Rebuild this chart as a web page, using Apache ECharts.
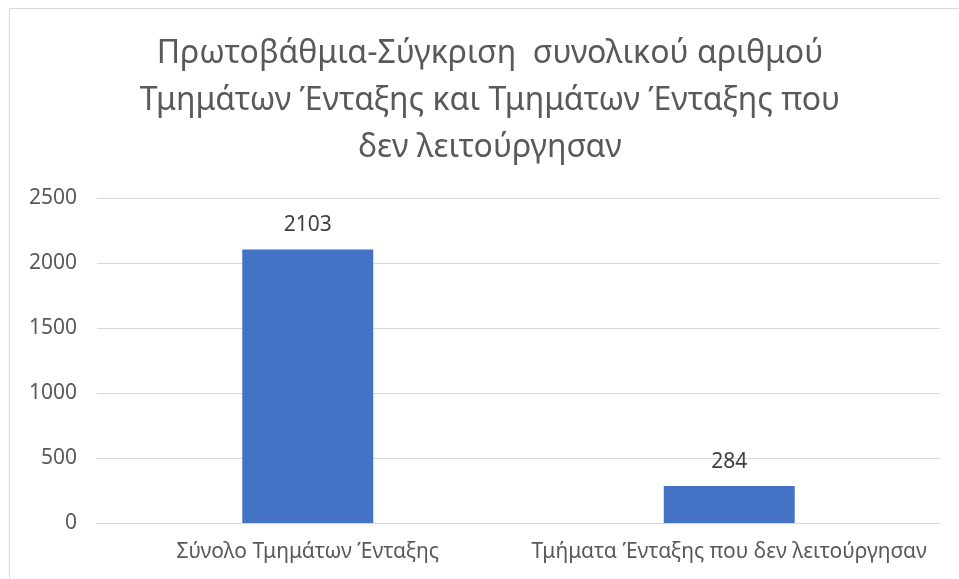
<!DOCTYPE html>
<html><head><meta charset="utf-8">
<script src="https://cdn.jsdelivr.net/npm/echarts@6/dist/echarts.min.js"></script>
<style>html,body{margin:0;padding:0;background:#fff}#c{width:959px;height:579px}</style>
</head><body><div id="c"></div>
<script>
const titleText = 'Πρωτοβάθμια-Σύγκριση  συνολικού αριθμού\nΤμημάτων Ένταξης και Τμημάτων Ένταξης που\nδεν λειτούργησαν';
const categories = ['Σύνολο Τμημάτων Ένταξης', 'Τμήματα Ένταξης που δεν λειτούργησαν'];
const values = [2103, 284];
const yTicks = {min: 0, max: 2500, interval: 500};
const font = '"Noto Sans", "Open Sans", sans-serif';
const chart = echarts.init(document.getElementById('c'), null, {renderer: 'canvas'});
chart.setOption({
  animation: false,
  backgroundColor: '#fff',
  title: {
    text: titleText,
    left: 490, top: 30, textAlign: 'center', padding: 0,
    textStyle: {fontFamily: font, fontSize: 32, fontWeight: 'normal', color: '#595959', lineHeight: 47}
  },
  graphic: [{type: 'rect', shape: {x: 9.5, y: 8.5, width: 970, height: 600}, style: {fill: 'none', stroke: '#d9d9d9', lineWidth: 1}, silent: true}],
  grid: {left: 97, right: 19, top: 198, bottom: 56, containLabel: false},
  xAxis: {
    type: 'category', data: categories,
    axisLine: {lineStyle: {color: '#d9d9d9', width: 1}},
    axisTick: {show: false},
    axisLabel: {fontFamily: font, fontSize: 21, color: '#595959', margin: 19, interval: 0, hideOverlap: false}
  },
  yAxis: {
    type: 'value', min: yTicks.min, max: yTicks.max, interval: yTicks.interval,
    axisLine: {show: false}, axisTick: {show: false},
    splitLine: {lineStyle: {color: '#d9d9d9', width: 1}},
    axisLabel: {fontFamily: font, fontSize: 21, color: '#595959', margin: 20, formatter: v => String(v)}
  },
  series: [{
    type: 'bar', data: values, barWidth: 131,
    itemStyle: {color: '#4472c4'},
    label: {show: true, position: 'top', distance: 14, fontFamily: font, fontSize: 21, color: '#404040'}
  }]
});
</script></body></html>
